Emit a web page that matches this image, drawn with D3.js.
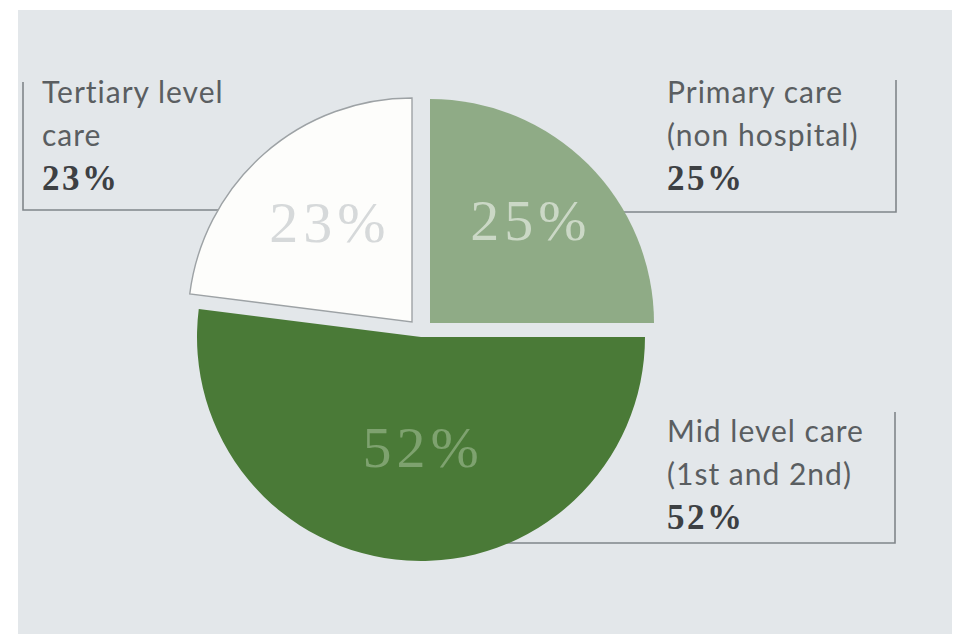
<!DOCTYPE html>
<html>
<head>
<meta charset="utf-8">
<script src="https://cdn.jsdelivr.net/npm/d3@7"></script>
<style>
  html, body { margin: 0; padding: 0; background: #ffffff; }
  svg { display: block; }
</style>
</head>
<body>
<svg id="chart" width="955" height="638"></svg>
<script>
// Share of spending by level of care
const categories = ["Primary care", "Mid level care", "Tertiary level care"];
const shares = [25, 52, 23];
const labelLines = [
  ["Primary care", "(non hospital)"],
  ["Mid level care", "(1st and 2nd)"],
  ["Tertiary level", "care"]
];
const pctLabels = ["25%", "52%", "23%"];

// Presentation settings
const fills = ["#8fab86", "#4a7a37", "#fdfdfb"];
const insideText = ["#cbd8c6", "#7ea26f", "#d6d9da"];
const center = { x: 420, y: 329 };
const radius = 224;
// how far each wedge is pulled away from the centre
const shifts = [[10, -6], [1, 8], [-8, -7]];
const labelRadius = [140, 110, 124];
const labelNudge = [[2, -4], [9, 0], [0, -7]];

// call-out boxes: text anchor, vertical rule x, rule span, bottom rule
const callouts = [
  { tx: 667, ty: 103, ruleX: 896, top: 80, bottom: 212, toX: 560 },
  { tx: 667, ty: 442, ruleX: 895, top: 412, bottom: 543, toX: 470 },
  { tx: 42, ty: 103, ruleX: 23, top: 82, bottom: 210, toX: 300 }
];

const svg = d3.select("#chart");

// page panel
svg.append("rect")
  .attr("x", 18).attr("y", 10)
  .attr("width", 934).attr("height", 624)
  .attr("fill", "#e3e7ea");

// call-out rules (drawn first so the pie covers their inner ends)
const ruleG = svg.append("g")
  .attr("fill", "none")
  .attr("stroke", "#80868a")
  .attr("stroke-width", 1.6);
callouts.forEach(c => {
  ruleG.append("path")
    .attr("d", d3.line()([[c.ruleX, c.top], [c.ruleX, c.bottom], [c.toX, c.bottom]]));
});

const pie = d3.pie().sort(null).startAngle(0).endAngle(2 * Math.PI);
const arcs = pie(shares);
const arc = d3.arc().innerRadius(0).outerRadius(radius);

const slices = svg.append("g")
  .attr("transform", `translate(${center.x},${center.y})`);

slices.selectAll("path")
  .data(arcs)
  .join("path")
  .attr("transform", (d, i) => `translate(${shifts[i][0]},${shifts[i][1]})`)
  .attr("d", arc)
  .attr("fill", (d, i) => fills[i])
  .attr("stroke", (d, i) => i === 2 ? "#9da2a5" : "none")
  .attr("stroke-width", 1.4);

// percentages inside the wedges
slices.selectAll("text")
  .data(arcs)
  .join("text")
  .attr("transform", (d, i) => {
    const p = d3.arc().innerRadius(labelRadius[i]).outerRadius(labelRadius[i]).centroid(d);
    return `translate(${p[0] + shifts[i][0] + labelNudge[i][0]},${p[1] + shifts[i][1] + labelNudge[i][1]})`;
  })
  .attr("text-anchor", "middle")
  .attr("dy", "0.34em")
  .attr("font-family", "'Liberation Serif', 'Times New Roman', serif")
  .attr("font-size", 58)
  .attr("letter-spacing", 5)
  .attr("fill", (d, i) => insideText[i])
  .text((d, i) => d.data + "%");

// call-out text
const lineGap = 43;
callouts.forEach((c, i) => {
  const t = svg.append("g");
  labelLines[i].forEach((s, k) => {
    t.append("text")
      .attr("x", c.tx).attr("y", c.ty + k * lineGap)
      .attr("font-family", "Lato, 'Open Sans', sans-serif")
      .attr("font-size", 30)
      .attr("letter-spacing", 1)
      .attr("fill", "#5a5e61")
      .text(s);
  });
  t.append("text")
    .attr("x", c.tx).attr("y", c.ty + 2 * lineGap + 1)
    .attr("font-family", "'Liberation Serif', serif")
    .attr("font-weight", "bold")
    .attr("font-size", 35)
    .attr("letter-spacing", 2.5)
    .attr("fill", "#3d4043")
    .text(pctLabels[i]);
});
</script>
</body>
</html>
